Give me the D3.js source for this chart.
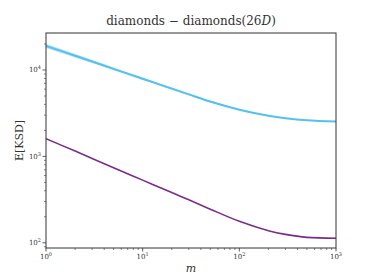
<!DOCTYPE html>
<html>
<head>
<meta charset="utf-8">
<script src="https://cdn.jsdelivr.net/npm/d3@7"></script>
<style>
  body { margin: 0; background: #fff; }
  svg { display: block; font-family: "DejaVu Serif", "Liberation Serif", serif; }
</style>
</head>
<body>
<svg id="canvas" width="374" height="280"></svg>
<script>
"use strict"

// values
const mValues = [1, 2, 3, 5, 10, 20, 30, 50, 100, 200, 300, 500, 1000]
const blueMean = [19010, 14620, 12530, 10310, 7920, 6090, 5220, 4310, 3470, 2960, 2770, 2615, 2530]
const blueLow = [17970, 13960, 12030, 9930, 7660, 5920, 5090, 4215, 3410, 2915, 2735, 2585, 2505]
const blueHigh = [20060, 15280, 13030, 10690, 8180, 6260, 5350, 4405, 3530, 3005, 2805, 2645, 2555]
const purpleMean = [1603, 1151, 947, 740, 531, 381, 314, 245, 177, 138, 125, 115.5, 113]

const xTicks = [1, 10, 100, 1000]
const yTicks = [100, 1000, 10000]

const $ = {
  left: 46, right: 336, top: 33, bottom: 248,
}

const svg = d3.select("#canvas")

const x = d3.scaleLog().domain([1, 1000]).range([$.left, $.right])
const y = d3.scaleLog().domain([87, 26800]).range([$.bottom, $.top])

svg.append("clipPath").attr("id", "clip")
  .append("rect")
  .attr("x", $.left).attr("y", $.top)
  .attr("width", $.right - $.left).attr("height", $.bottom - $.top)

const plot = svg.append("g").attr("clip-path", "url(#clip)")

const band = d3.area()
  .x((d, i) => x(mValues[i]))
  .y0((d, i) => y(blueLow[i]))
  .y1((d, i) => y(blueHigh[i]))
  .curve(d3.curveCatmullRom)

plot.append("path")
  .datum(mValues)
  .attr("d", band)
  .attr("fill", "#a6def6")
  .attr("opacity", 0.85)

const line = d3.line()
  .x(d => x(d[0]))
  .y(d => y(d[1]))
  .curve(d3.curveCatmullRom)

plot.append("path")
  .datum(mValues.map((m, i) => [m, blueMean[i]]))
  .attr("d", line)
  .attr("fill", "none")
  .attr("stroke", "#55c1ee")
  .attr("stroke-width", 2)

plot.append("path")
  .datum(mValues.map((m, i) => [m, purpleMean[i]]))
  .attr("d", line)
  .attr("fill", "none")
  .attr("stroke", "#7a2b8c")
  .attr("stroke-width", 1.6)

// minor ticks
function minors(lo, hi) {
  const out = []
  for (let d = Math.floor(Math.log10(lo)); d <= Math.ceil(Math.log10(hi)); d++) {
    for (let k = 2; k <= 9; k++) {
      const v = k * Math.pow(10, d)
      if (v >= lo && v <= hi) out.push(v)
    }
  }
  return out
}

const axisColor = "#333"

const xAxis = svg.append("g")
  .attr("transform", `translate(0,${$.bottom})`)
xAxis.selectAll("line.minor")
  .data(minors(1, 1000))
  .enter().append("line")
    .attr("x1", d => x(d)).attr("x2", d => x(d))
    .attr("y1", 0).attr("y2", 2)
    .attr("stroke", axisColor).attr("stroke-width", 0.6)
xAxis.selectAll("line.major")
  .data(xTicks)
  .enter().append("line")
    .attr("x1", d => x(d)).attr("x2", d => x(d))
    .attr("y1", 0).attr("y2", 3.5)
    .attr("stroke", axisColor).attr("stroke-width", 0.8)
const xl = xAxis.selectAll("text")
  .data(xTicks)
  .enter().append("text")
    .attr("x", d => x(d))
    .attr("y", 11)
    .attr("text-anchor", "middle")
    .attr("font-size", 7)
    .attr("fill", "#333")
xl.append("tspan").text("10")
xl.append("tspan").attr("dy", -3).attr("font-size", 5).text(d => Math.round(Math.log10(d)))

const yAxis = svg.append("g")
  .attr("transform", `translate(${$.left},0)`)
yAxis.selectAll("line.minor")
  .data(minors(87, 26800))
  .enter().append("line")
    .attr("y1", d => y(d)).attr("y2", d => y(d))
    .attr("x1", 0).attr("x2", -2)
    .attr("stroke", axisColor).attr("stroke-width", 0.6)
yAxis.selectAll("line.major")
  .data(yTicks)
  .enter().append("line")
    .attr("y1", d => y(d)).attr("y2", d => y(d))
    .attr("x1", 0).attr("x2", -3.5)
    .attr("stroke", axisColor).attr("stroke-width", 0.8)
const yl = yAxis.selectAll("text")
  .data(yTicks)
  .enter().append("text")
    .attr("x", -5)
    .attr("y", d => y(d) + 2.5)
    .attr("text-anchor", "end")
    .attr("font-size", 7)
    .attr("fill", "#333")
yl.append("tspan").text("10")
yl.append("tspan").attr("dy", -3).attr("font-size", 5).text(d => Math.round(Math.log10(d)))

// frame
svg.append("rect")
  .attr("x", $.left).attr("y", $.top)
  .attr("width", $.right - $.left).attr("height", $.bottom - $.top)
  .attr("fill", "none")
  .attr("stroke", axisColor)
  .attr("stroke-width", 1)

// title and labels
svg.append("text")
  .attr("x", ($.left + $.right) / 2)
  .attr("y", 25)
  .attr("text-anchor", "middle")
  .attr("font-size", 12)
  .attr("fill", "#333")
  .html('diamonds − diamonds(26<tspan font-style="italic">D</tspan>)')

svg.append("text")
  .attr("x", ($.left + $.right) / 2)
  .attr("y", 272)
  .attr("text-anchor", "middle")
  .attr("font-size", 11)
  .attr("font-style", "italic")
  .attr("fill", "#333")
  .text("m")

svg.append("text")
  .attr("transform", `translate(23,${($.top + $.bottom) / 2}) rotate(-90)`)
  .attr("text-anchor", "middle")
  .attr("font-size", 11)
  .attr("fill", "#333")
  .text("E[KSD]")
</script>
</body>
</html>
